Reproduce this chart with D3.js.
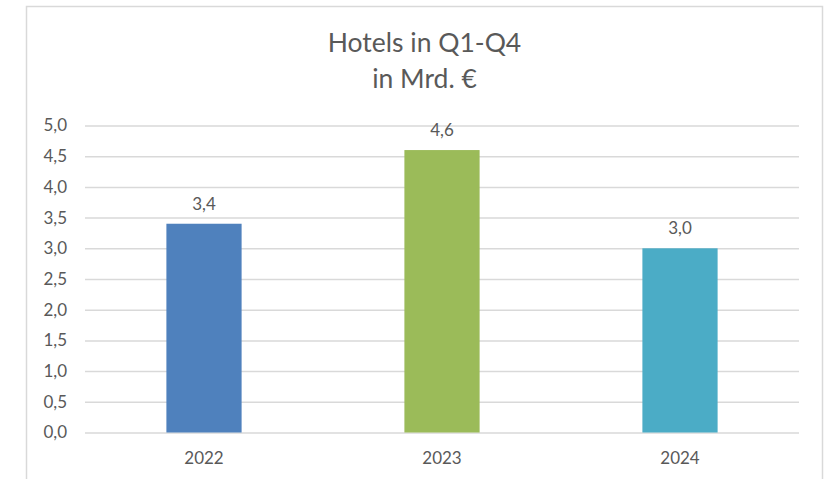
<!DOCTYPE html>
<html>
<head>
<meta charset="utf-8">
<script src="https://cdn.jsdelivr.net/npm/d3@7"></script>
<style>
  html, body { margin: 0; padding: 0; background: #ffffff; }
  svg { display: block; }
  text { font-family: Lato, "Open Sans", sans-serif; fill: #595959; }
</style>
</head>
<body>
<svg id="chart" width="833" height="479"></svg>
<script>
const titleLines = ["Hotels in Q1-Q4", "in Mrd. €"];
const categories = ["2022", "2023", "2024"];
const values = [3.4, 4.6, 3.0];
const colors = ["#4f81bd", "#9bbb59", "#4bacc6"];
const yTicks = [0, 0.5, 1, 1.5, 2, 2.5, 3, 3.5, 4, 4.5, 5];

const W = 833, H = 479;
const svg = d3.select("#chart");
const fmt = v => d3.format(".1f")(v).replace(".", ",");

// frame
svg.append("rect")
  .attr("x", 26.5).attr("y", 6.5)
  .attr("width", 796).attr("height", 490)
  .attr("fill", "#ffffff")
  .attr("stroke", "#d9d9d9").attr("stroke-width", 1.5);

const plot = { left: 85, right: 799, top: 125.5, bottom: 432.5 };

const x = d3.scaleBand().domain(categories)
  .range([plot.left, plot.right]).paddingInner(0.684).paddingOuter(0.342);
const y = d3.scaleLinear().domain([0, 5]).range([plot.bottom, plot.top]);

// title
const title = svg.append("text")
  .attr("text-anchor", "middle")
  .attr("font-size", 26.5);
titleLines.forEach((t, i) => {
  title.append("tspan").attr("x", 424.5).attr("y", 51.7 + i * 36.6).text(t);
});

// gridlines + y axis
const yAxis = d3.axisLeft(y).tickValues(yTicks).tickFormat(fmt)
  .tickSize(-(plot.right - plot.left)).tickPadding(18);
const gy = svg.append("g").attr("transform", `translate(${plot.left},0)`).call(yAxis);
gy.select(".domain").remove();
gy.selectAll(".tick line").attr("stroke", "#d9d9d9").attr("stroke-width", 1.5);
gy.selectAll(".tick text").attr("font-size", 17).attr("fill", "#595959")
  .style("font-family", "Lato, 'Open Sans', sans-serif");

// bars
svg.append("g").selectAll("rect").data(values).join("rect")
  .attr("x", (d, i) => x(categories[i]))
  .attr("width", x.bandwidth())
  .attr("y", d => y(d))
  .attr("height", d => y(0) - y(d))
  .attr("fill", (d, i) => colors[i]);

// data labels
svg.append("g").selectAll("text").data(values).join("text")
  .attr("x", (d, i) => x(categories[i]) + x.bandwidth() / 2)
  .attr("y", d => y(d) - 14)
  .attr("text-anchor", "middle")
  .attr("font-size", 17)
  .text(d => fmt(d));

// x axis
const xAxis = d3.axisBottom(x).tickSize(0).tickPadding(19);
const gx = svg.append("g").attr("transform", `translate(0,${plot.bottom})`).call(xAxis);
gx.select(".domain").remove();
gx.selectAll(".tick text").attr("font-size", 17).attr("fill", "#595959")
  .style("font-family", "Lato, 'Open Sans', sans-serif");
</script>
</body>
</html>
